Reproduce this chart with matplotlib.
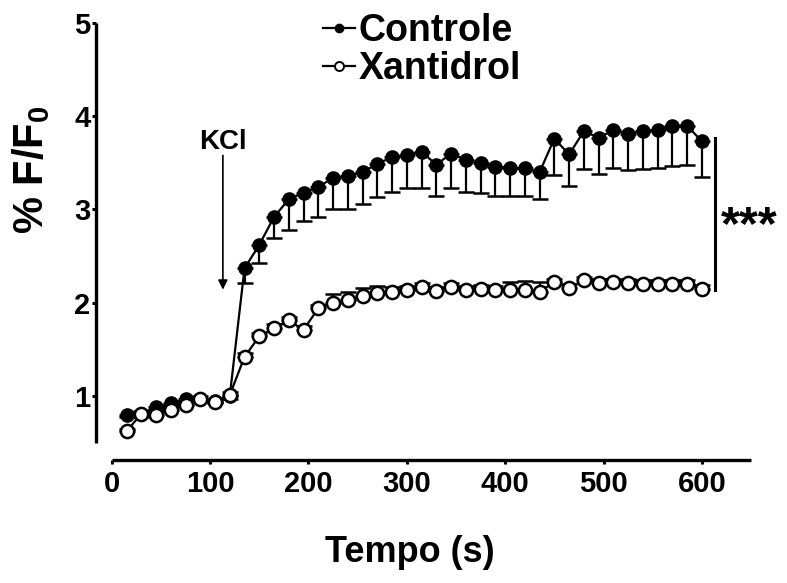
import numpy as np
import matplotlib.pyplot as plt
from matplotlib.lines import Line2D

plt.rcParams['font.family'] = ['Liberation Sans', 'DejaVu Sans']
plt.rcParams['font.weight'] = 'bold'

# Tempo (s)
tempo = [15, 30, 45, 60, 75, 90, 105, 120, 135, 150,
         165, 180, 195, 210, 225, 240, 255, 270, 285, 300,
         315, 330, 345, 360, 375, 390, 405, 420, 435, 450,
         465, 480, 495, 510, 525, 540, 555, 570, 585, 600]

# % F/F0 - Controle
controle = [0.80, 0.81, 0.88, 0.92, 0.97, 0.97, 0.95, 1.00, 2.37, 2.62,
            2.92, 3.11, 3.18, 3.24, 3.34, 3.36, 3.40, 3.49, 3.56, 3.58,
            3.62, 3.48, 3.60, 3.53, 3.50, 3.46, 3.45, 3.44, 3.40, 3.76,
            3.59, 3.84, 3.77, 3.85, 3.81, 3.84, 3.85, 3.90, 3.90, 3.73]
controle_err = [0.03, 0.03, 0.03, 0.03, 0.03, 0.03, 0.03, 0.03, 0.16, 0.19,
                0.23, 0.33, 0.30, 0.32, 0.34, 0.35, 0.34, 0.36, 0.37, 0.35,
                0.39, 0.34, 0.37, 0.34, 0.32, 0.32, 0.30, 0.30, 0.29, 0.39,
                0.34, 0.41, 0.39, 0.40, 0.39, 0.41, 0.41, 0.43, 0.42, 0.38]

# % F/F0 - Xantidrol
xantidrol = [0.62, 0.81, 0.80, 0.85, 0.90, 0.97, 0.94, 1.01, 1.42, 1.64,
             1.73, 1.81, 1.71, 1.94, 2.00, 2.03, 2.07, 2.10, 2.12, 2.14,
             2.17, 2.13, 2.17, 2.14, 2.15, 2.14, 2.14, 2.14, 2.12, 2.22,
             2.16, 2.24, 2.21, 2.22, 2.21, 2.20, 2.20, 2.20, 2.20, 2.15]
xantidrol_err = [0.03, 0.03, 0.03, 0.03, 0.03, 0.03, 0.03, 0.03, 0.04, 0.04,
                 0.04, 0.04, 0.04, 0.04, 0.09, 0.09, 0.09, 0.08, 0.05, 0.04,
                 0.04, 0.04, 0.04, 0.04, 0.04, 0.04, 0.08, 0.09, 0.10, 0.04,
                 0.04, 0.04, 0.04, 0.04, 0.04, 0.04, 0.04, 0.04, 0.04, 0.04]

fig = plt.figure(figsize=(7.87, 5.83), dpi=100)
ax = fig.add_axes([0.1220, 0.2110, 0.8323, 0.7496])

zero = np.zeros(len(tempo))

# Controle: barra de erro so para baixo
ax.errorbar(tempo, controle, yerr=[controle_err, zero], fmt='none',
            ecolor='black', elinewidth=1.6, capsize=5.5, capthick=1.8, zorder=2)
ax.plot(tempo, controle, '-', color='black', lw=1.6, marker='o', markersize=9.5,
        markerfacecolor='black', markeredgecolor='black', zorder=3, clip_on=False)

# Xantidrol: barra de erro so para cima
ax.errorbar(tempo, xantidrol, yerr=[zero, xantidrol_err], fmt='none',
            ecolor='black', elinewidth=1.6, capsize=5.5, capthick=1.8, zorder=4)
ax.plot(tempo, xantidrol, '-', color='black', lw=1.6, marker='o', markersize=9.5,
        markerfacecolor='white', markeredgecolor='black', markeredgewidth=1.8,
        zorder=5, clip_on=False)

ax.set_xlim(-16, 650)
ax.set_ylim(0.314, 5)
ax.spines['top'].set_visible(False)
ax.spines['right'].set_visible(False)
ax.spines['left'].set_bounds(0.5, 5)
ax.spines['bottom'].set_bounds(0, 650)
for s in ['left', 'bottom']:
    ax.spines[s].set_linewidth(2.4)
    ax.spines[s].set_capstyle('butt')

ax.set_xticks([0, 100, 200, 300, 400, 500, 600])
ax.set_yticks([1, 2, 3, 4, 5])
ax.tick_params(axis='both', direction='out', length=3, width=2.2, labelsize=21)
ax.tick_params(axis='y', pad=1)
ax.tick_params(axis='x', pad=4)

# Seta do KCl
ax.annotate('', xy=(113, 2.14), xytext=(113, 3.58),
            arrowprops=dict(arrowstyle='-|>', color='black', lw=1.2,
                            mutation_scale=14, shrinkA=0, shrinkB=0))
ax.text(113, 3.72, 'KCl', ha='center', va='center', fontsize=20, fontweight='bold')

# Significancia
ax.plot([613, 613], [2.14, 3.77], color='black', lw=2.2, clip_on=False)
ax.text(619, 2.68, '***', ha='left', va='baseline', fontsize=35, fontweight='bold')

# Legenda
handles = [Line2D([0], [0], color='black', lw=1.6, marker='o', markersize=6,
                  markerfacecolor='black', markeredgecolor='black'),
           Line2D([0], [0], color='black', lw=1.6, marker='o', markersize=6.5,
                  markerfacecolor='white', markeredgecolor='black', markeredgewidth=1.4)]
fig.legend(handles, ['Controle', 'Xantidrol'], loc='upper left',
           bbox_to_anchor=(0.410, 0.978), frameon=False,
           handlelength=0.85, handletextpad=0.1, labelspacing=0.05,
           borderpad=0, borderaxespad=0, prop={'weight': 'bold', 'size': 27})

fig.text(0.040, 1 - 170 / 583, '% F/F$_\\mathregular{0}$', rotation=90,
         ha='center', va='center', fontsize=30, fontweight='bold')
fig.text(410 / 787, 1 - 553 / 583, 'Tempo (s)', ha='center', va='center',
         fontsize=26, fontweight='bold')

fig.savefig('out.png', dpi=100)
